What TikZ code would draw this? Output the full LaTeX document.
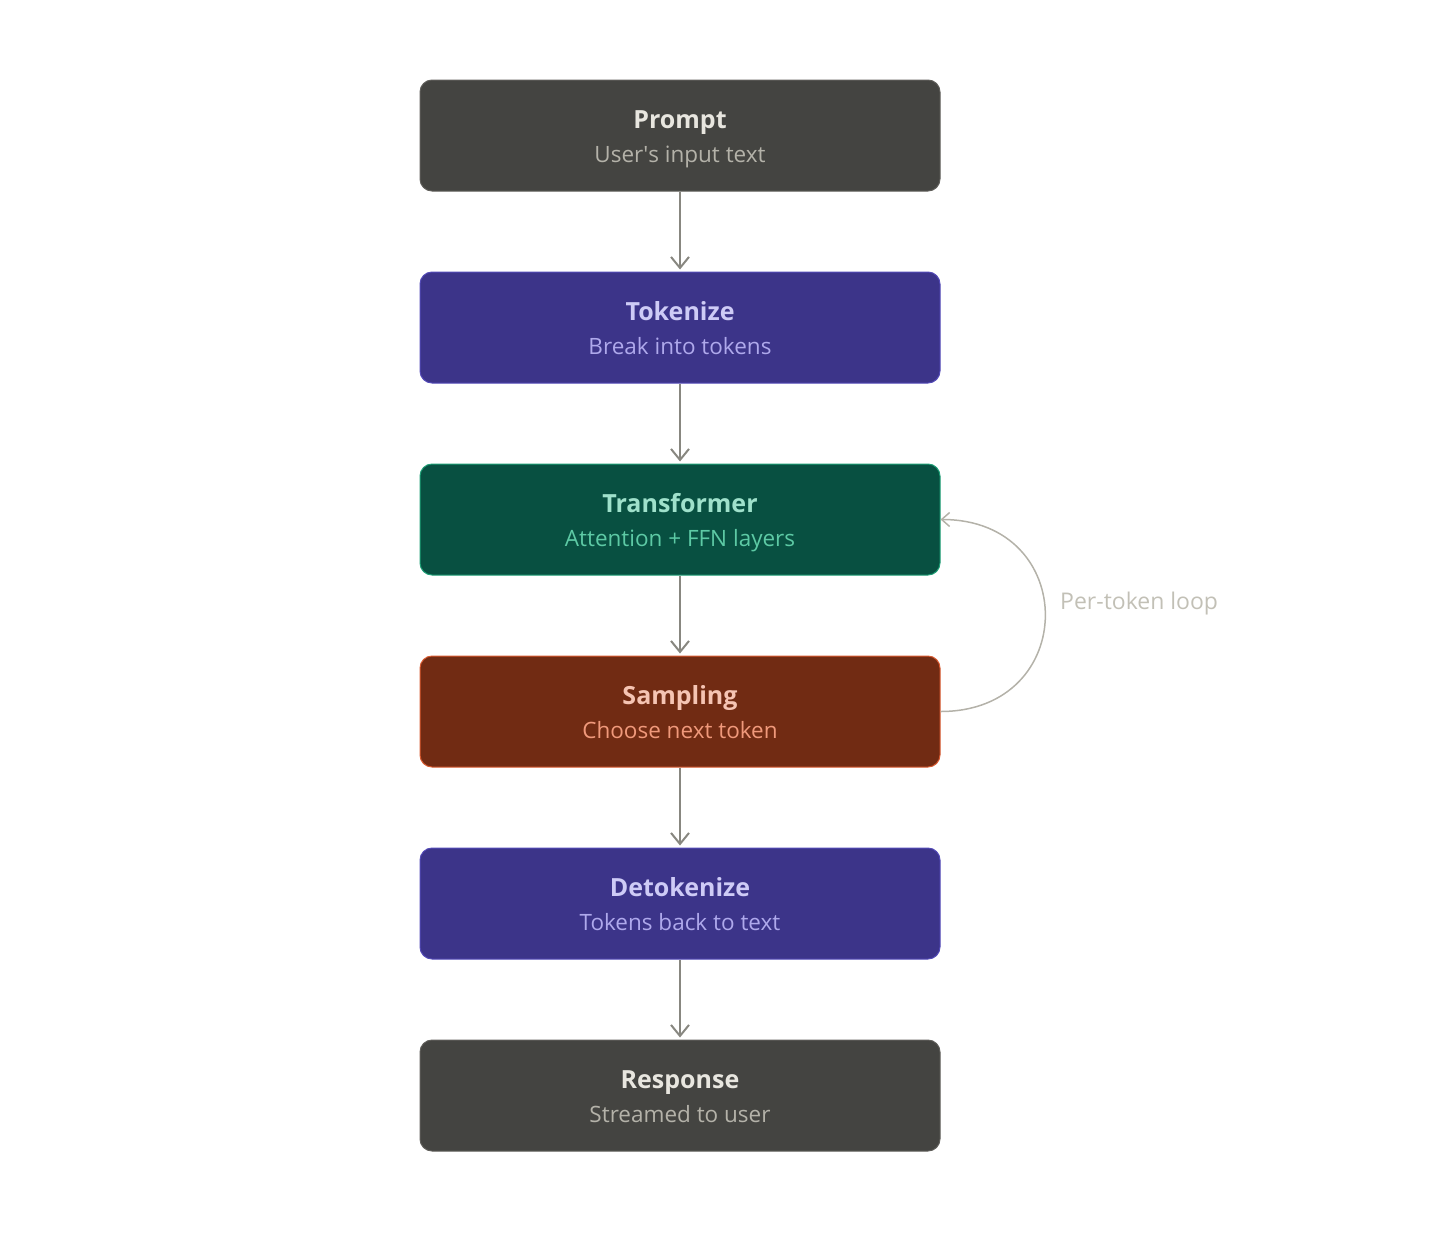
\documentclass[tikz,border=0pt]{standalone}
\usepackage{fontspec}
\setmainfont{Open Sans}
\usetikzlibrary{arrows.meta}
\definecolor{grayfill}{HTML}{444441}
\definecolor{grayline}{HTML}{5F5E5A}
\definecolor{graytitle}{HTML}{E8E6DF}
\definecolor{graysub}{HTML}{B4B2A9}
\definecolor{purfill}{HTML}{3C3489}
\definecolor{purline}{HTML}{534AB7}
\definecolor{purtitle}{HTML}{CECBF6}
\definecolor{pursub}{HTML}{AFA9EC}
\definecolor{tealfill}{HTML}{085041}
\definecolor{tealline}{HTML}{1D9E75}
\definecolor{tealtitle}{HTML}{9FE1CB}
\definecolor{tealsub}{HTML}{5DCAA5}
\definecolor{corfill}{HTML}{712B13}
\definecolor{corline}{HTML}{D85A30}
\definecolor{cortitle}{HTML}{F5C4B3}
\definecolor{corsub}{HTML}{F0997B}
\definecolor{arrowc}{HTML}{888780}
\definecolor{loopc}{HTML}{B4B2A9}
\definecolor{labelc}{HTML}{C2C0B6}
\begin{document}
\begin{tikzpicture}[x=1pt,y=-1pt,
  stagebox/.style={rounded corners=12pt, minimum width=520pt, minimum height=111pt, inner sep=0pt, line width=1pt},
  titletext/.style={anchor=base, inner sep=0pt, font=\fontsize{25}{30}\selectfont\bfseries},
  subtext/.style={anchor=base, inner sep=0pt, font=\fontsize{22.5}{27}\selectfont},
  flow/.style={draw=arrowc, line width=2pt, -{Straight Barb[length=11pt,width=18pt,line width=2pt]}},
  loopline/.style={draw=loopc, line width=1.5pt, -{Straight Barb[length=8pt,width=14pt,line width=1.5pt]}}]
\useasboundingbox (0,0) rectangle (1440,1232);
% boxes
\node[stagebox, fill=grayfill, draw=grayline] (prompt) at (680,135.5) {};
\node[stagebox, fill=purfill, draw=purline] (tok) at (680,327.5) {};
\node[stagebox, fill=tealfill, draw=tealline] (trans) at (680,519.5) {};
\node[stagebox, fill=corfill, draw=corline] (samp) at (680,711.5) {};
\node[stagebox, fill=purfill, draw=purline] (detok) at (680,903.5) {};
\node[stagebox, fill=grayfill, draw=grayline] (resp) at (680,1095.5) {};
% texts
\node[titletext, text=graytitle] (promptT) at ([yshift=7.5pt]prompt.center) {Prompt};
\node[subtext, text=graysub] (promptS) at ([yshift=-26.5pt]prompt.center) {User\textquotesingle s input text};
\node[titletext, text=purtitle] (tokT) at ([yshift=7.5pt]tok.center) {Tokenize};
\node[subtext, text=pursub] (tokS) at ([yshift=-26.5pt]tok.center) {Break into tokens};
\node[titletext, text=tealtitle] (transT) at ([yshift=7.5pt]trans.center) {Transformer};
\node[subtext, text=tealsub] (transS) at ([yshift=-26.5pt]trans.center) {Attention + FFN layers};
\node[titletext, text=cortitle] (sampT) at ([yshift=7.5pt]samp.center) {Sampling};
\node[subtext, text=corsub] (sampS) at ([yshift=-26.5pt]samp.center) {Choose next token};
\node[titletext, text=purtitle] (detokT) at ([yshift=7.5pt]detok.center) {Detokenize};
\node[subtext, text=pursub] (detokS) at ([yshift=-26.5pt]detok.center) {Tokens back to text};
\node[titletext, text=graytitle] (respT) at ([yshift=7.5pt]resp.center) {Response};
\node[subtext, text=graysub] (respS) at ([yshift=-26.5pt]resp.center) {Streamed to user};
% connectors
\draw[flow] (prompt.south) -- ([yshift=2pt]tok.north);
\draw[flow] (tok.south) -- ([yshift=2pt]trans.north);
\draw[flow] (trans.south) -- ([yshift=2pt]samp.north);
\draw[flow] (samp.south) -- ([yshift=2pt]detok.north);
\draw[flow] (detok.south) -- ([yshift=2pt]resp.north);
\draw[loopline] (samp.east) .. controls (1080,711.5) and (1080,519.5) .. (trans.east);
\node[anchor=west, text=labelc, font=\fontsize{23}{28}\selectfont, inner sep=0pt] (looplabel) at (1060,604) {Per-token loop};
\end{tikzpicture}
\end{document}
